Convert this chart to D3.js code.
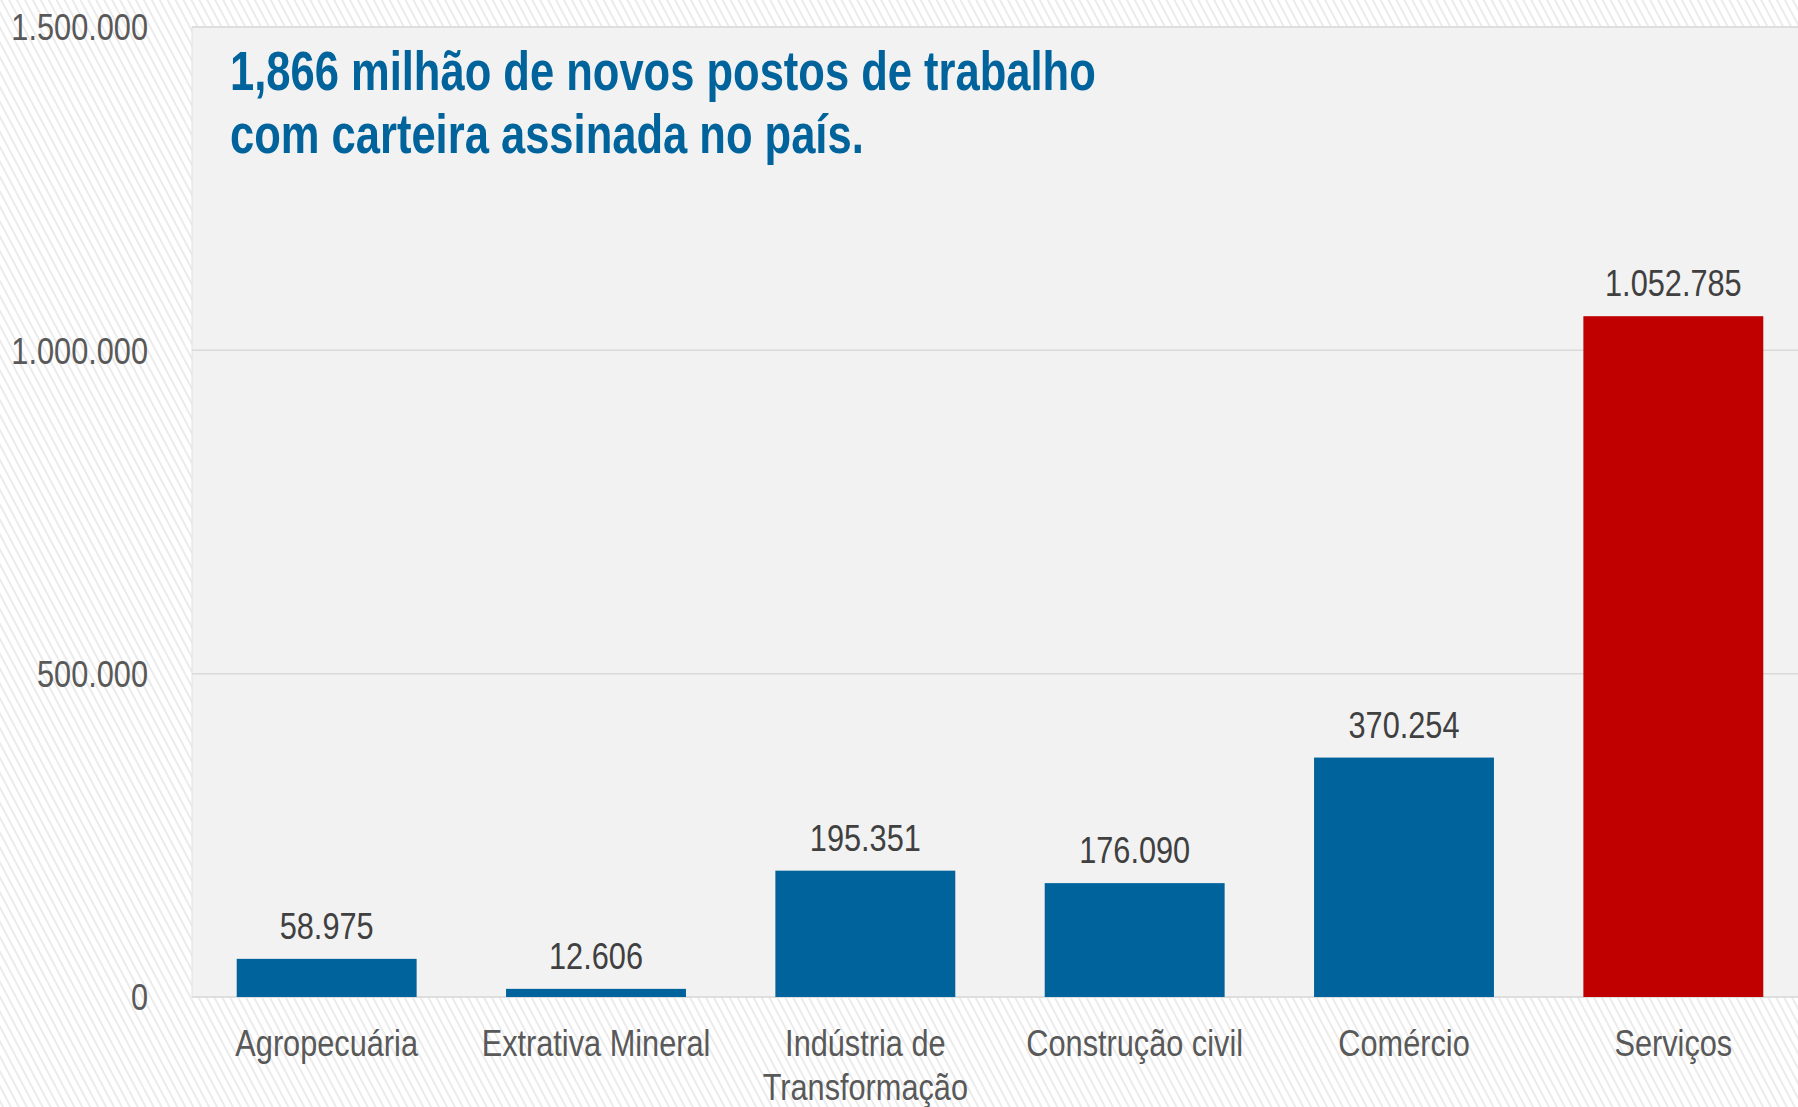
<!DOCTYPE html>
<html>
<head>
<meta charset="utf-8">
<script src="https://cdn.jsdelivr.net/npm/d3@7"></script>
<style>
  body { margin: 0; background: #fff; }
  svg text { font-family: "Liberation Sans", Arial, sans-serif; }
</style>
</head>
<body>
<div id="chart"></div>
<script>
// data
var categories = ["Agropecuária", "Extrativa Mineral", "Indústria de\nTransformação", "Construção civil", "Comércio", "Serviços"];
var values = [58975, 12606, 195351, 176090, 370254, 1052785];
var barColors = ["#00639b", "#00639b", "#00639b", "#00639b", "#00639b", "#c00000"];
var yTicks = [0, 500000, 1000000, 1500000];
var titleLines = ["1,866 milhão de novos postos de trabalho", "com carteira assinada no país."];

var W = 1798, H = 1107;
var margin = { top: 27, right: -10, bottom: 110, left: 192 };
var width = W - margin.left - margin.right,
    height = H - margin.top - margin.bottom;
var squeeze = 0.83; // the source text is a narrow face

var svg = d3.select("#chart")
    .append("svg")
    .attr("width", W)
    .attr("height", H);

// hatched page background
var defs = svg.append("defs");
var pat = defs.append("pattern")
    .attr("id", "hatch")
    .attr("patternUnits", "userSpaceOnUse")
    .attr("width", 7)
    .attr("height", 7)
    .attr("patternTransform", "rotate(-28)");
pat.append("rect").attr("width", 7).attr("height", 7).attr("fill", "#ffffff");
pat.append("line")
    .attr("x1", 1).attr("y1", 0).attr("x2", 1).attr("y2", 7)
    .attr("stroke", "#ebebeb").attr("stroke-width", 2);

svg.append("rect").attr("width", W).attr("height", H).attr("fill", "url(#hatch)");

var g = svg.append("g")
    .attr("transform", "translate(" + margin.left + "," + margin.top + ")");

// plot area
g.append("rect")
    .attr("x", 0).attr("y", 0)
    .attr("width", width).attr("height", height)
    .attr("fill", "#f2f2f2")
    .attr("stroke", "#e2e2e2")
    .attr("stroke-width", 1);

var x = d3.scaleBand()
    .domain(categories)
    .range([0, width])
    .paddingInner(0.332)
    .paddingOuter(0.166);

var y = d3.scaleLinear()
    .domain([0, 1500000])
    .range([height, 0]);

var fmt = d3.formatLocale({ decimal: ",", thousands: ".", grouping: [3], currency: ["R$", ""] }).format(",d");

function at(px, py) {
    return "translate(" + px + "," + py + ") scale(" + squeeze + ",1)";
}

// gridlines + y labels
g.selectAll(".grid")
    .data(yTicks)
    .enter()
    .append("line")
    .attr("x1", 0).attr("x2", width)
    .attr("y1", function (d) { return y(d); })
    .attr("y2", function (d) { return y(d); })
    .attr("stroke", "#d9d9d9")
    .attr("stroke-width", 1.5);

g.selectAll(".ylab")
    .data(yTicks)
    .enter()
    .append("text")
    .attr("transform", function (d) { return at(-44, y(d)); })
    .attr("dy", "0.36em")
    .attr("text-anchor", "end")
    .attr("fill", "#595959")
    .style("font-size", "37px")
    .text(function (d) { return fmt(d); });

// bars
g.selectAll(".bar")
    .data(values)
    .enter()
    .append("rect")
    .attr("x", function (d, i) { return x(categories[i]); })
    .attr("y", function (d) { return y(d); })
    .attr("width", x.bandwidth())
    .attr("height", function (d) { return height - y(d); })
    .attr("fill", function (d, i) { return barColors[i]; });

// value labels
g.selectAll(".val")
    .data(values)
    .enter()
    .append("text")
    .attr("transform", function (d, i) { return at(x(categories[i]) + x.bandwidth() / 2, y(d) - 20); })
    .attr("text-anchor", "middle")
    .attr("fill", "#404040")
    .style("font-size", "37px")
    .text(function (d) { return fmt(d); });

// category labels
var cat = g.selectAll(".cat")
    .data(categories)
    .enter()
    .append("text")
    .attr("text-anchor", "middle")
    .attr("fill", "#595959")
    .style("font-size", "37px")
    .attr("transform", function (d) { return at(x(d) + x.bandwidth() / 2, height + 59); });
cat.selectAll("tspan")
    .data(function (d) { return d.split("\n"); })
    .enter()
    .append("tspan")
    .attr("x", 0)
    .attr("dy", function (d, i) { return i === 0 ? 0 : 44; })
    .text(function (d) { return d; });

// title, narrowed so the first line spans the same width as the source
var title = svg.selectAll(".title")
    .data(titleLines)
    .enter()
    .append("text")
    .attr("fill", "#00639b")
    .style("font-size", "56px")
    .style("font-weight", "bold")
    .text(function (d) { return d; });
var tw = title.node().getComputedTextLength();
var ts = 866 / tw;
title.attr("transform", function (d, i) { return "translate(230," + (90 + i * 63) + ") scale(" + ts + ",1)"; });
</script>
</body>
</html>
